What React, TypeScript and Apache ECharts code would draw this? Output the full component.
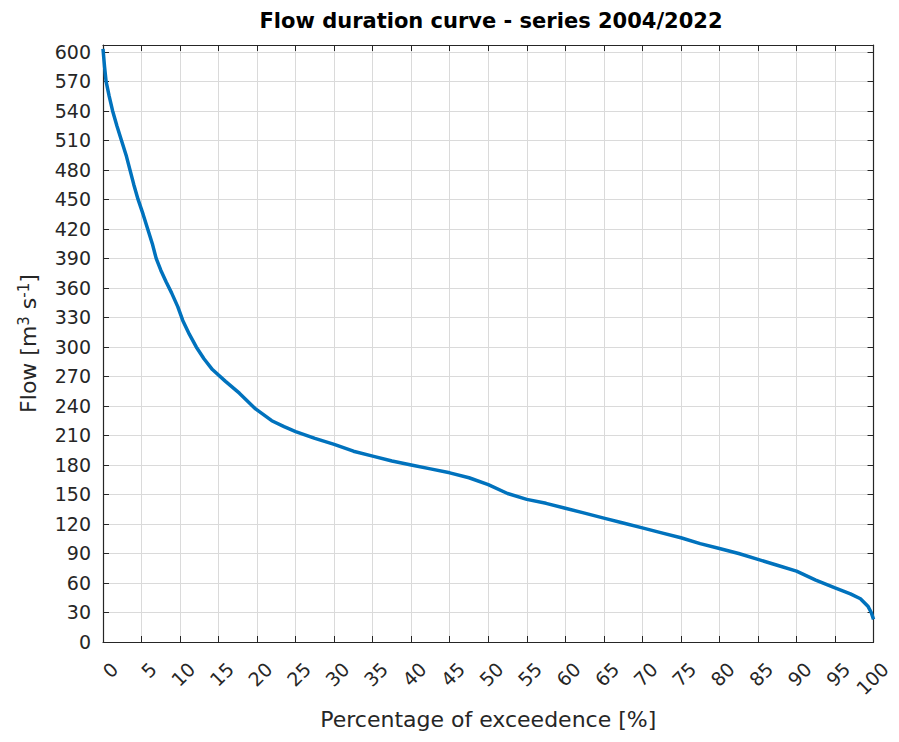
import React, { useEffect, useRef } from "react";
import * as echarts from "echarts";

// Percentage of exceedence [%]
const exceedence = [
  0, 0.2, 0.4, 0.8, 1.25, 1.8, 2.4, 3.0, 3.5, 4.0, 4.55, 5.2, 5.8, 6.4, 6.9, 7.5,
  8.2, 8.9, 9.7, 10.35, 11.2, 12.1, 13.1, 14.2, 15.9, 17.7, 19.8, 21.9, 23.5, 25,
  27.5, 30, 32.5, 35, 37.5, 40, 42.5, 45, 47.5, 50, 52.5, 55, 57.5, 60, 62.5, 65,
  67.5, 70, 72.5, 75, 77.5, 80, 82.5, 85, 87.5, 90, 92.5, 95, 97, 98.3, 99.3, 99.7, 100,
];

// Flow [m3 s-1]
const flow = [
  603, 585, 570, 555, 540, 525, 510, 495, 480, 465, 450, 435, 420, 405, 390, 378,
  366, 355, 341, 327, 313, 300, 288, 277, 265, 253, 237, 225, 219, 214,
  207, 201, 194, 189, 184, 180, 176, 172, 167, 160, 151, 145, 141, 136, 131, 126,
  121, 116, 111, 106, 100, 95, 90, 84, 78, 72, 63, 55, 49, 44, 36, 30, 23,
];

const titleText = "Flow duration curve - series 2004/2022";
const xName = "Percentage of exceedence [%]";
const yNameRich = "Flow [m{sup|3} s{sup|-1}]";

const X_MIN = 0;
const X_MAX = 100;
const X_STEP = 5;
const Y_MIN = 0;
const Y_MAX = 607;
const Y_STEP = 30;

const FONT = "DejaVu Sans";
const AXIS_COLOR = "#262626";
const GRID_COLOR = "#dadada";

export default function App() {
  const ref = useRef<HTMLDivElement>(null);

  useEffect(() => {
    if (!ref.current) return;
    const chart = echarts.init(ref.current, null, { renderer: "svg" });
    const data = exceedence.map((p, i) => [p, flow[i]]);

    const tickCommon = { show: true, inside: true, length: 6, lineStyle: { color: AXIS_COLOR, width: 1 } };
    const lineCommon = { show: true, onZero: false, lineStyle: { color: AXIS_COLOR, width: 1.2 } };
    const xLabelStyle = {
      rotate: 45,
      margin: 12,
      align: "right",
      verticalAlign: "top",
      lineHeight: 33,
      fontFamily: FONT,
      fontSize: 19,
      color: AXIS_COLOR,
    };

    chart.setOption({
      animation: false,
      backgroundColor: "#ffffff",
      title: {
        text: titleText,
        left: 491,
        textAlign: "center",
        top: 10,
        padding: 0,
        textStyle: { fontFamily: FONT, fontSize: 21, fontWeight: "bold", color: "#000000" },
      },
      grid: { left: 103, right: 20, top: 45, bottom: 100, containLabel: false },
      xAxis: [
        {
          type: "value",
          position: "bottom",
          min: X_MIN,
          max: X_MAX,
          interval: X_STEP,
          axisLine: lineCommon,
          axisTick: tickCommon,
          splitLine: { show: true, lineStyle: { color: GRID_COLOR, width: 1 } },
          axisLabel: { ...xLabelStyle, showMinLabel: true, showMaxLabel: false },
          name: xName,
          nameLocation: "middle",
          nameGap: 66,
          nameTextStyle: { fontFamily: FONT, fontSize: 22, color: AXIS_COLOR },
        },
        {
          type: "value",
          position: "top",
          min: X_MIN,
          max: X_MAX,
          interval: X_STEP,
          axisLine: lineCommon,
          axisTick: tickCommon,
          splitLine: { show: false },
          axisLabel: { show: false },
        },
        {
          // carries only the last tick label ("100") so it is not hidden by overlap logic
          type: "value",
          position: "bottom",
          min: X_MIN,
          max: X_MAX,
          interval: X_MAX,
          axisLine: { show: false },
          axisTick: { show: false },
          splitLine: { show: false },
          axisLabel: {
            ...xLabelStyle,
            showMinLabel: false,
            showMaxLabel: true,
            formatter: (v: number) => (v === X_MAX ? String(v) : ""),
          },
        },
      ],
      yAxis: [
        {
          type: "value",
          position: "left",
          min: Y_MIN,
          max: Y_MAX,
          interval: Y_STEP,
          axisLine: lineCommon,
          axisTick: tickCommon,
          splitLine: { show: true, lineStyle: { color: GRID_COLOR, width: 1 } },
          axisLabel: {
            margin: 12,
            showMaxLabel: false,
            formatter: (v: number) => (v % Y_STEP === 0 ? String(v) : ""),
            padding: [8, 0, 0, 0],
            fontFamily: FONT,
            fontSize: 19,
            color: AXIS_COLOR,
          },
          name: yNameRich,
          nameLocation: "middle",
          nameGap: 62,
          nameRotate: 90,
          nameTextStyle: {
            fontFamily: FONT,
            fontSize: 22,
            color: AXIS_COLOR,
            rich: {
              sup: { fontFamily: FONT, fontSize: 15, color: AXIS_COLOR, verticalAlign: "top", padding: [0, 0, 10, 0] },
            },
          },
        },
        {
          type: "value",
          position: "right",
          min: Y_MIN,
          max: Y_MAX,
          interval: Y_STEP,
          axisLine: lineCommon,
          axisTick: tickCommon,
          splitLine: { show: false },
          axisLabel: { show: false },
        },
      ],
      series: [
        {
          type: "line",
          xAxisIndex: 0,
          yAxisIndex: 0,
          data,
          symbol: "none",
          smooth: false,
          clip: true,
          lineStyle: { color: "#0072BD", width: 3.5 },
        },
      ],
    });

    return () => chart.dispose();
  }, []);

  return (
    <div
      ref={ref}
      style={{ position: "fixed", left: 0, top: 0, width: 899, height: 742, background: "#ffffff" }}
    />
  );
}
